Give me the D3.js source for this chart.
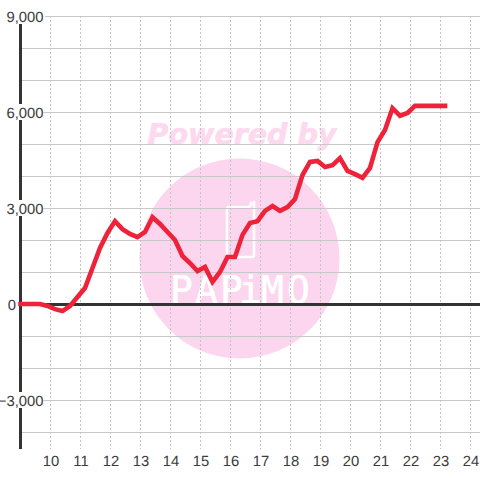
<!DOCTYPE html>
<html><head><meta charset="utf-8">
<script src="https://cdn.jsdelivr.net/npm/d3@7"></script>
<style>html,body{margin:0;padding:0;background:#fff}svg{display:block}text{text-rendering:geometricPrecision}</style>
</head><body><svg id="c" width="480" height="480"></svg>
<script>
const hours=[9,9.65,9.9,10.15,10.4,10.65,10.9,11.15,11.4,11.65,11.9,12.15,12.4,12.65,12.9,13.15,13.4,13.65,13.9,14.15,14.4,14.65,14.9,15.15,15.4,15.65,15.9,16.15,16.4,16.65,16.9,17.15,17.4,17.65,17.9,18.15,18.4,18.65,18.9,19.15,19.4,19.65,19.9,20.15,20.4,20.65,20.9,21.15,21.4,21.65,21.9,22.15,23.15];
const values=[0,0,-60,-160,-220,-60,220,500,1125,1750,2220,2590,2340,2190,2090,2250,2710,2500,2250,2000,1500,1280,1030,1160,690,1000,1470,1470,2160,2530,2590,2910,3060,2910,3030,3280,4030,4440,4470,4280,4340,4560,4160,4060,3940,4250,5060,5440,6120,5880,5970,6190,6190];
const yTicks=[9000,6000,3000,0,-3000];
const yGrid=[9000,8000,7000,6000,5000,4000,3000,2000,1000,-1000,-2000,-3000,-4000];
const xTicks=[10,11,12,13,14,15,16,17,18,19,20,21,22,23,24];
const watermark="Powered by";
const logoText="PAPiMO";
const x=d3.scaleLinear().domain([9,24]).range([20.5,470.5]);
const y=d3.scaleLinear().domain([9000,-3000]).range([16,400]);
const svg=d3.select("#c");
svg.append("rect").attr("width",480).attr("height",480).attr("fill","#fff");
const pink="#fbd6ee";
svg.append("circle").attr("cx",239.5).attr("cy",258.5).attr("r",100).attr("fill",pink);
svg.append("text").text(watermark).attr("x",242).attr("y",144).attr("text-anchor","middle")
 .attr("font-family","DejaVu Sans").attr("font-weight","bold").attr("font-style","italic").attr("font-size",28.5)
 .attr("fill","#fcd9ee").attr("stroke","#fcd9ee").attr("stroke-width",.6);
svg.append("path").attr("d","M254,202V255Q254,257 252,257H229Q227,257 227,255V209Q227,207 229,207H248Q251,207 251,203")
 .attr("fill","none").attr("stroke","#fff").attr("stroke-width",2.6).attr("stroke-linecap","round");
svg.append("text").text(logoText).attr("x","170 195 220 239 261 287").attr("y",303)
 .attr("font-family","DejaVu Sans Mono").attr("font-size",38).attr("fill","#fff").attr("stroke","#fff").attr("stroke-width",.5);
const grid=svg.append("g");
grid.selectAll("line.h").data(yGrid).join("line").attr("x1",d=>d===9000?45:20).attr("x2",480).attr("y1",d=>Math.round(y(d))+.5).attr("y2",d=>Math.round(y(d))+.5).attr("stroke","#c8c8c8").attr("stroke-width",1);
grid.selectAll("line.v").data(xTicks).join("line").attr("x1",d=>x(d)).attr("x2",d=>x(d)).attr("y1",16).attr("y2",449).attr("stroke","#c4c4c4").attr("stroke-width",1).attr("stroke-dasharray","2,2");
svg.append("line").attr("x1",20.5).attr("x2",20.5).attr("y1",16).attr("y2",449).attr("stroke","#333").attr("stroke-width",3);
svg.append("line").attr("x1",20).attr("x2",480).attr("y1",y(0)+.5).attr("y2",y(0)+.5).attr("stroke","#333").attr("stroke-width",3);
const ly=svg.append("g");
yTicks.forEach(t=>{
 const s=t===0?"0":d3.format(",")(t);
 const g=ly.append("g");
 const txt=g.append("text").text(s).attr("x",t===0?16:43.5).attr("y",y(t)+5.5).attr("text-anchor","end").attr("font-family","Liberation Sans").attr("font-size",14.8).attr("fill","#3c3c3c");
 if(t!==0){const b=txt.node().getBBox();g.insert("rect","text").attr("x",b.x).attr("y",y(t)-8).attr("width",b.width).attr("height",16).attr("fill","#fff");}
});
svg.append("g").selectAll("text").data(xTicks).join("text").text(d=>d).attr("x",d=>x(d)+.5).attr("y",466).attr("text-anchor","middle").attr("font-family","Liberation Sans").attr("font-size",14.8).attr("fill","#3c3c3c");
const line=d3.line().x((d,i)=>x(hours[i])).y(d=>y(d));
svg.append("path").datum(values).attr("d",line).attr("fill","none").attr("stroke","#ee2238").attr("stroke-width",4.6).attr("stroke-linecap","square");
</script></body></html>
